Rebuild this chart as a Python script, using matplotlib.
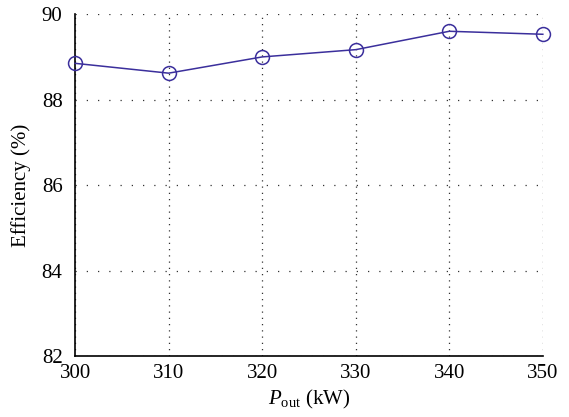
import matplotlib.pyplot as plt

p_out = [300, 310, 320, 330, 340, 350]
efficiency = [88.85, 88.62, 89.0, 89.17, 89.6, 89.53]
x_ticks = [300, 310, 320, 330, 340, 350]
y_ticks = [82, 84, 86, 88, 90]

plt.rcParams['font.family'] = ['Liberation Serif', 'DejaVu Serif']
plt.rcParams['mathtext.fontset'] = 'custom'
plt.rcParams['mathtext.it'] = 'Liberation Serif:italic'
plt.rcParams['mathtext.rm'] = 'Liberation Serif'

fig = plt.figure(figsize=(5.69, 4.17), dpi=100)
ax = fig.add_axes([0.132, 0.146, 0.822, 0.820])

ax.plot(p_out, efficiency, color='#3b2f9c', linewidth=1.1, marker='o',
        markersize=10, markerfacecolor='none', markeredgecolor='#3b2f9c',
        markeredgewidth=1.1, clip_on=False, zorder=3)

ax.set_xlim(300, 350)
ax.set_ylim(82, 90)
ax.set_xticks(x_ticks)
ax.set_yticks(y_ticks)
ax.tick_params(length=0, labelsize=15)
ax.tick_params(axis='x', pad=6)
ax.tick_params(axis='y', pad=9)
# vertical grid lines are denser dotted than the horizontal ones
ax.grid(True, axis='x', linestyle=(0, (1, 4)), color='#333333', linewidth=0.9)
ax.grid(True, axis='y', linestyle=(0, (1, 8)), color='#333333', linewidth=0.9)

for side in ['top', 'right']:
    ax.spines[side].set_visible(False)
ax.spines['left'].set_linewidth(1.2)
ax.spines['bottom'].set_linewidth(1.2)

ax.set_xlabel(r'$P_{\mathrm{out}}$ (kW)', fontsize=15, labelpad=3)
ax.set_ylabel('Efficiency (%)', fontsize=15, labelpad=8)

fig.savefig('out.png', dpi=100)
